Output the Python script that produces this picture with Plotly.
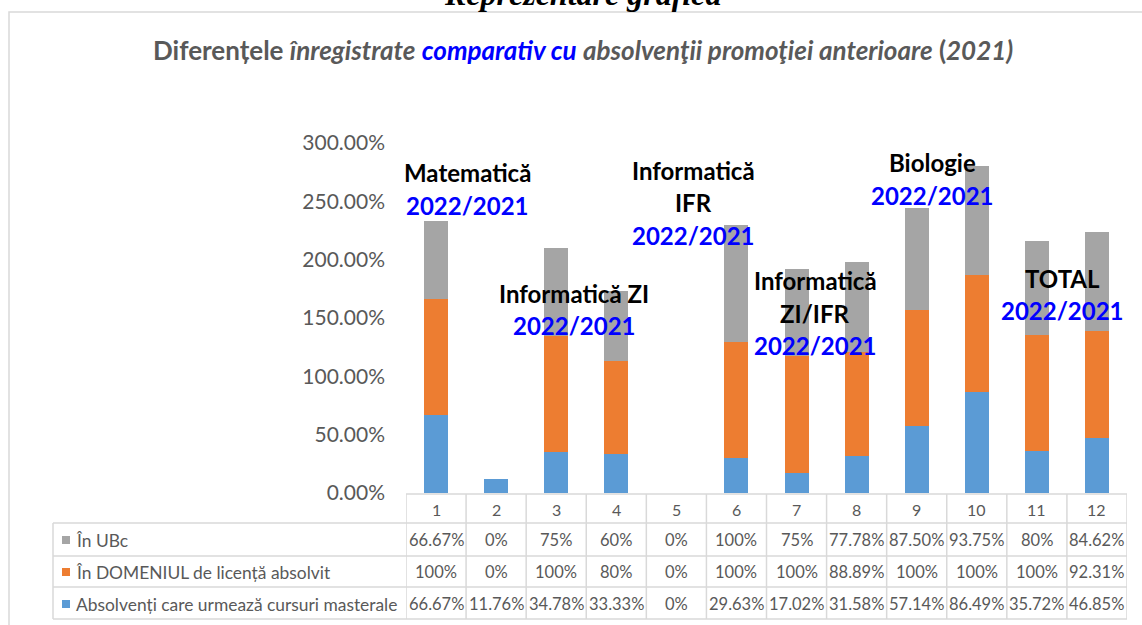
import plotly.graph_objects as go

categories = [1, 2, 3, 4, 5, 6, 7, 8, 9, 10, 11, 12]
masterale = [66.67, 11.76, 34.78, 33.33, 0, 29.63, 17.02, 31.58, 57.14, 86.49, 35.72, 46.85]
domeniu = [100, 0, 100, 80, 0, 100, 100, 88.89, 100, 100, 100, 92.31]
ubc = [66.67, 0, 75, 60, 0, 100, 75, 77.78, 87.50, 93.75, 80, 84.62]
series_names = ["Absolvenți care urmează cursuri masterale", "În DOMENIUL de licență absolvit", "În UBc"]
colors = ["#5B9BD5", "#ED7D31", "#A5A5A5"]
y_ticks = [0, 0.5, 1.0, 1.5, 2.0, 2.5, 3.0]

W, H = 1142, 625
L, R, T, B = 406, 15, 143, 132
PW = W - L - R
PH = H - T - B
FONT = "Lato"
GREY = "#595959"
LINE = "#D9D9D9"


def px(x):
    return (x - L) / PW


def py(y):
    return (H - B - y) / PH


def fmt(v):
    if abs(v - round(v)) < 1e-9:
        return "%d%%" % round(v)
    return "%.2f%%" % v


def ann(x, y, text, size, color, xref="paper", xanchor="center", family=FONT):
    return dict(x=x, y=y, xref=xref, yref="paper", text=text, showarrow=False,
                xanchor=xanchor, yanchor="middle",
                font=dict(family=family, size=size, color=color))


fig = go.Figure()
for name, vals, col in zip(series_names, [masterale, domeniu, ubc], colors):
    fig.add_trace(go.Bar(x=categories, y=[v / 100 for v in vals], name=name,
                         marker=dict(color=col, line=dict(width=0))))

shapes = []
annotations = []

# outer chart border
shapes.append(dict(type="rect", xref="paper", yref="paper", x0=px(9), x1=px(1160),
                   y0=py(640), y1=py(12), line=dict(color="#D9D9D9", width=1.5)))

# table grid
row_lines = [494, 523, 556, 587, 619]
col_left = 53
for i, yy in enumerate(row_lines):
    x0 = px(406) if i == 0 else px(col_left)
    shapes.append(dict(type="line", xref="paper", yref="paper", x0=x0, x1=1.0,
                       y0=py(yy), y1=py(yy), line=dict(color=LINE, width=1.5)))
for k in range(13):
    xx = 0.5 + k
    shapes.append(dict(type="line", xref="x", yref="paper", x0=xx, x1=xx,
                       y0=py(494), y1=py(619), line=dict(color=LINE, width=1.5)))
shapes.append(dict(type="line", xref="paper", yref="paper", x0=px(col_left), x1=px(col_left),
                   y0=py(523), y1=py(619), line=dict(color=LINE, width=1.5)))

# header numbers
for c in categories:
    annotations.append(ann(c, py(509), str(c), 16, GREY, xref="x"))

rows = [("În UBc", ubc, colors[2], 540), ("În DOMENIUL de licență absolvit", domeniu, colors[1], 572),
        ("Absolvenți care urmează cursuri masterale", masterale, colors[0], 604)]
for label, vals, col, yy in rows:
    shapes.append(dict(type="rect", xref="paper", yref="paper", x0=px(62), x1=px(70),
                       y0=py(yy + 4), y1=py(yy - 4), fillcolor=col, line=dict(width=0)))
    annotations.append(ann(px(74), py(yy), label, 17.4, GREY, xanchor="left"))
    for c, v in zip(categories, vals):
        annotations.append(ann(c, py(yy), fmt(v), 16.5, GREY, xref="x"))

# top cut-off heading
annotations.append(ann(px(582), py(-6), "<b><i>Reprezentare grafică</i></b>", 32, "black",
                       family="Liberation Serif"))

# chart title
title = ("<b>Diferențele <i>înregistrate</i> <i><span style='color:#0000FF'>comparativ cu</span></i> "
         "<i>absolvenţii promoţiei anterioare</i> (<i>2021)</i></b>")
annotations.append(ann(px(583), py(50), title, 26, GREY))

# group labels
group_labels = [
    (467, [("Matematică", "black", 172), ("2022/2021", "#0000FF", 205)]),
    (574, [("Informatică ZI", "black", 293), ("2022/2021", "#0000FF", 325)]),
    (693, [("Informatică", "black", 170), ("IFR", "black", 203), ("2022/2021", "#0000FF", 235)]),
    (815, [("Informatică", "black", 280), ("ZI/IFR", "black", 313), ("2022/2021", "#0000FF", 345)]),
    (932, [("Biologie", "black", 162), ("2022/2021", "#0000FF", 195)]),
    (1062, [("TOTAL", "black", 278), ("2022/2021", "#0000FF", 310)]),
]
for xx, lines in group_labels:
    for txt, col, yy in lines:
        annotations.append(ann(px(xx), py(yy), "<b>%s</b>" % txt, 24, col))

fig.update_layout(
    width=W, height=H,
    margin=dict(l=L, r=R, t=T, b=B, pad=0),
    barmode="stack", bargap=0.6,
    showlegend=False,
    plot_bgcolor="white", paper_bgcolor="white",
    xaxis=dict(range=[0.5, 12.5], showticklabels=False, showgrid=False, zeroline=False,
               showline=False, ticks=""),
    yaxis=dict(range=[0, 3.0], tickvals=y_ticks, tickformat=".2%", showgrid=False,
               zeroline=False, showline=False, ticks="", ticklabelstandoff=20,
               tickfont=dict(family=FONT, size=21, color=GREY)),
    shapes=shapes, annotations=annotations,
)

fig.write_html("out.html", config={"displayModeBar": False},
               post_script="document.body.style.margin='0';document.body.style.overflow='hidden';")
